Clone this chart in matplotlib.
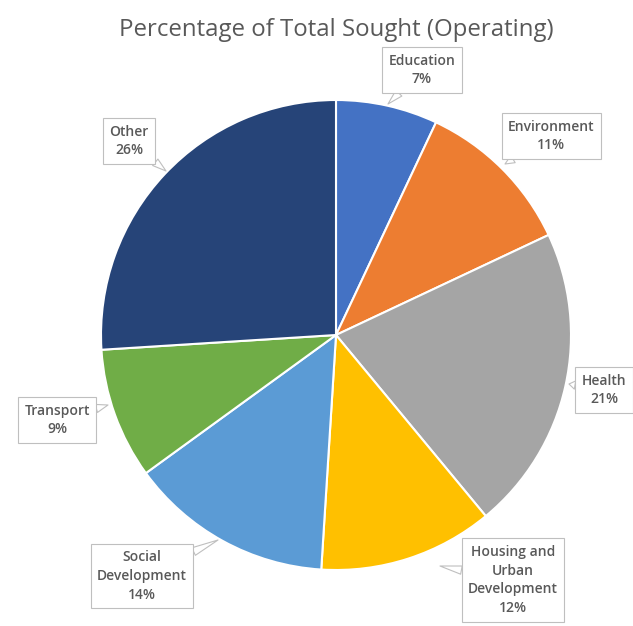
import matplotlib.pyplot as plt

# share of total sought, clockwise from the top
categories = ['Education', 'Environment', 'Health', 'Housing and\nUrban\nDevelopment',
              'Social\nDevelopment', 'Transport', 'Other']
shares = [7, 11, 21, 12, 14, 9, 26]
colors = ['#4472C4', '#ED7D31', '#A5A5A5', '#FFC000', '#5B9BD5', '#70AD47', '#264478']

# label box centres and the pie-edge point each callout points to (pixel coords, y down)
label_pos = [(422, 70), (551, 136), (604, 390), (513, 580), (142, 576), (57, 420), (129, 141)]
tip_pos = [(388, 104), (505, 164), (569, 384), (440, 566), (218, 540), (108, 405), (166, 171)]

W, H = 633, 626
fig = plt.figure(figsize=(W / 100, H / 100), dpi=100)
ax = fig.add_axes([0, 0, 1, 1])

ax.pie(shares, colors=colors, startangle=90, counterclock=False,
       center=(336, H - 335), radius=235,
       wedgeprops=dict(edgecolor='white', linewidth=1.5))

ax.set_xlim(0, W)
ax.set_ylim(0, H)
ax.set_aspect('equal')
ax.axis('off')

for name, val, (lx, ly), (tx, ty) in zip(categories, shares, label_pos, tip_pos):
    ax.annotate(f'{name}\n{val}%', xy=(tx, H - ty), xytext=(lx, H - ly),
                ha='center', va='center', fontsize=10, color='#595959',
                family='Open Sans', weight='semibold', linespacing=1.45,
                bbox=dict(boxstyle='square,pad=0.45', fc='white', ec='#BFBFBF', lw=0.8),
                arrowprops=dict(arrowstyle='wedge,tail_width=0.6', fc='white',
                                ec='#BFBFBF', lw=0.8, shrinkA=0, shrinkB=0))

ax.text(336, H - 30, 'Percentage of Total Sought (Operating)', ha='center', va='center',
        fontsize=17.3, color='#595959', family='Open Sans')

fig.savefig('out.png', dpi=100)
